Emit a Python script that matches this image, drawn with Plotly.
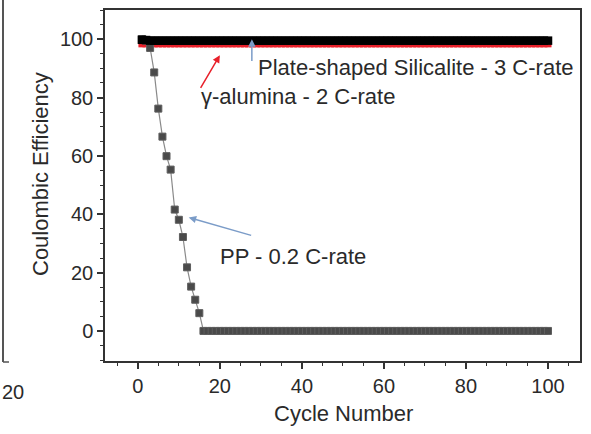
import plotly.graph_objects as go

# ---------------- data ----------------
cycles = list(range(1, 101))

pp_values = [
    100.0, 99.5, 97.0, 88.6, 76.2, 66.6, 59.9, 55.3, 41.6, 38.1,
    32.2, 21.8, 15.2, 10.7, 6.1, 0.0, 0.0, 0.0, 0.0, 0.0,
    0.0, 0.0, 0.0, 0.0, 0.0, 0.0, 0.0, 0.0, 0.0, 0.0,
    0.0, 0.0, 0.0, 0.0, 0.0, 0.0, 0.0, 0.0, 0.0, 0.0,
    0.0, 0.0, 0.0, 0.0, 0.0, 0.0, 0.0, 0.0, 0.0, 0.0,
    0.0, 0.0, 0.0, 0.0, 0.0, 0.0, 0.0, 0.0, 0.0, 0.0,
    0.0, 0.0, 0.0, 0.0, 0.0, 0.0, 0.0, 0.0, 0.0, 0.0,
    0.0, 0.0, 0.0, 0.0, 0.0, 0.0, 0.0, 0.0, 0.0, 0.0,
    0.0, 0.0, 0.0, 0.0, 0.0, 0.0, 0.0, 0.0, 0.0, 0.0,
    0.0, 0.0, 0.0, 0.0, 0.0, 0.0, 0.0, 0.0, 0.0, 0.0,
]

alumina_values = [
    98.4, 98.4, 98.4, 98.4, 98.4, 98.4, 98.4, 98.4, 98.4, 98.4,
    98.4, 98.4, 98.4, 98.4, 98.4, 98.4, 98.4, 98.4, 98.4, 98.4,
    98.4, 98.4, 98.4, 98.4, 98.4, 98.4, 98.4, 98.4, 98.4, 98.4,
    98.4, 98.4, 98.4, 98.4, 98.4, 98.4, 98.4, 98.4, 98.4, 98.4,
    98.4, 98.4, 98.4, 98.4, 98.4, 98.4, 98.4, 98.4, 98.4, 98.4,
    98.4, 98.4, 98.4, 98.4, 98.4, 98.4, 98.4, 98.4, 98.4, 98.4,
    98.4, 98.4, 98.4, 98.4, 98.4, 98.4, 98.4, 98.4, 98.4, 98.4,
    98.4, 98.4, 98.4, 98.4, 98.4, 98.4, 98.4, 98.4, 98.4, 98.4,
    98.4, 98.4, 98.4, 98.4, 98.4, 98.4, 98.4, 98.4, 98.4, 98.4,
    98.4, 98.4, 98.4, 98.4, 98.4, 98.4, 98.4, 98.4, 98.4, 98.4,
]

silicalite_values = [
    99.8, 99.7, 99.5, 99.5, 99.5, 99.5, 99.5, 99.5, 99.5, 99.5,
    99.5, 99.5, 99.5, 99.5, 99.5, 99.5, 99.5, 99.5, 99.5, 99.5,
    99.5, 99.5, 99.5, 99.5, 99.5, 99.5, 99.5, 99.5, 99.5, 99.5,
    99.5, 99.5, 99.5, 99.5, 99.5, 99.5, 99.5, 99.5, 99.5, 99.5,
    99.5, 99.5, 99.5, 99.5, 99.5, 99.5, 99.5, 99.5, 99.5, 99.5,
    99.5, 99.5, 99.5, 99.5, 99.5, 99.5, 99.5, 99.5, 99.5, 99.5,
    99.5, 99.5, 99.5, 99.5, 99.5, 99.5, 99.5, 99.5, 99.5, 99.5,
    99.5, 99.5, 99.5, 99.5, 99.5, 99.5, 99.5, 99.5, 99.5, 99.5,
    99.5, 99.5, 99.5, 99.5, 99.5, 99.5, 99.5, 99.5, 99.5, 99.5,
    99.5, 99.5, 99.5, 99.5, 99.5, 99.5, 99.5, 99.5, 99.5, 99.5,
]

label_silicalite = "Plate-shaped Silicalite - 3 C-rate"
label_alumina = "γ-alumina - 2 C-rate"
label_pp = "PP - 0.2 C-rate"
x_title = "Cycle Number"
y_title = "Coulombic Efficiency"

x_ticks = [0, 20, 40, 60, 80, 100]
y_ticks = [0, 20, 40, 60, 80, 100]

FONT = "Liberation Sans, Arial, sans-serif"
AX = "#333333"
TXT = "#2a2a2a"

fig = go.Figure()

fig.add_trace(go.Scatter(
    x=cycles, y=alumina_values, mode="lines+markers",
    line=dict(color="#e8202a", width=1.5),
    marker=dict(symbol="square", size=7, color="#e8202a"),
    showlegend=False))

fig.add_trace(go.Scatter(
    x=cycles, y=pp_values, mode="lines+markers",
    line=dict(color="#8a8a8a", width=1.2),
    marker=dict(symbol="square", size=7, color="#4a4a4a",
                line=dict(color="#5e5e5e", width=1)),
    showlegend=False))

fig.add_trace(go.Scatter(
    x=cycles, y=silicalite_values, mode="lines+markers",
    line=dict(color="#000000", width=1.5),
    marker=dict(symbol="square", size=8.5, color="#000000"),
    showlegend=False))

W, H = 591, 434
ML, MR, MT, MB = 105, 11, 10, 73
pw, ph = W - ML - MR, H - MT - MB


def px_to_paper(x, y):
    return (x - ML) / pw, (H - MB - y) / ph


ytx, yty = px_to_paper(40, 174)
rx, ry = px_to_paper(13, 392)
xtx, xty = px_to_paper(343, 413)

annotations = [
    # arrows
    dict(x=27.8, y=100.0, ax=27.8, ay=92.0, axref="x", ayref="y",
         xref="x", yref="y", text="", showarrow=True,
         arrowhead=2, arrowsize=1, arrowwidth=1.5, arrowcolor="#7b9cc8"),
    dict(x=20.0, y=94.5, ax=15.1, ay=82.8, axref="x", ayref="y",
         xref="x", yref="y", text="", showarrow=True,
         arrowhead=2, arrowsize=1, arrowwidth=1.5, arrowcolor="#e8202a"),
    dict(x=12.4, y=38.9, ax=28.0, ay=32.6, axref="x", ayref="y",
         xref="x", yref="y", text="", showarrow=True,
         arrowhead=2, arrowsize=1, arrowwidth=1.5, arrowcolor="#7b9cc8"),
    # labels
    dict(x=28.9, y=90.4, xref="x", yref="y", text=label_silicalite,
         showarrow=False, xanchor="left", yanchor="middle",
         font=dict(family=FONT, size=22, color=TXT)),
    dict(x=14.9, y=80.4, xref="x", yref="y", text=label_alumina,
         showarrow=False, xanchor="left", yanchor="middle",
         font=dict(family=FONT, size=22, color=TXT)),
    dict(x=19.6, y=25.4, xref="x", yref="y", text=label_pp,
         showarrow=False, xanchor="left", yanchor="middle",
         font=dict(family=FONT, size=22, color=TXT)),
    # axis titles
    dict(x=ytx, y=yty, xref="paper", yref="paper", text=y_title,
         showarrow=False, textangle=-90, xanchor="center", yanchor="middle",
         font=dict(family=FONT, size=22, color=TXT)),
    dict(x=xtx, y=xty, xref="paper", yref="paper", text=x_title,
         showarrow=False, xanchor="center", yanchor="middle",
         font=dict(family=FONT, size=22, color=TXT)),
    # cropped neighbour-figure remnant label
    dict(x=rx, y=ry, xref="paper", yref="paper", text="20", showarrow=False,
         xanchor="center", yanchor="middle",
         font=dict(family=FONT, size=20, color=TXT)),
]

lx0, ly0 = px_to_paper(3, 0)
lx1, ly1 = px_to_paper(3, 362)
tx1, _ = px_to_paper(9, 362)

fig.update_layout(
    width=W, height=H,
    margin=dict(l=ML, r=MR, t=MT, b=MB, pad=0, autoexpand=False),
    paper_bgcolor="white", plot_bgcolor="white",
    font=dict(family=FONT, size=20, color=TXT),
    annotations=annotations,
    shapes=[
        dict(type="line", xref="paper", yref="paper",
             x0=lx0, x1=lx1, y0=ly0, y1=ly1,
             line=dict(color="#555555", width=2)),
        dict(type="line", xref="paper", yref="paper",
             x0=lx1, x1=tx1, y0=ly1, y1=ly1,
             line=dict(color="#555555", width=1.5)),
    ],
)

fig.update_xaxes(
    range=[-8, 107.8], tickvals=x_ticks, ticktext=[str(v) for v in x_ticks],
    showgrid=False, zeroline=False, automargin=False,
    showline=True, linecolor=AX, linewidth=1.5, mirror=True,
    ticks="outside", ticklen=6, tickwidth=1.5, tickcolor=AX,
    minor=dict(dtick=5, tick0=0, ticks="outside", ticklen=3,
               tickwidth=1.2, tickcolor=AX, showgrid=False),
    tickfont=dict(family=FONT, size=20, color=TXT),
)

fig.update_yaxes(
    range=[-10.3, 110], tickvals=y_ticks, ticktext=[str(v) for v in y_ticks],
    showgrid=False, zeroline=False, automargin=False,
    showline=True, linecolor=AX, linewidth=1.5, mirror=True,
    ticks="outside", ticklen=6, tickwidth=1.5, tickcolor=AX,
    minor=dict(dtick=5, tick0=0, ticks="outside", ticklen=3,
               tickwidth=1.2, tickcolor=AX, showgrid=False),
    tickfont=dict(family=FONT, size=20, color=TXT),
)

fig.write_html(
    "out.html",
    config={"displayModeBar": False},
    post_script="document.body.style.margin='0';document.body.style.padding='0';",
)
